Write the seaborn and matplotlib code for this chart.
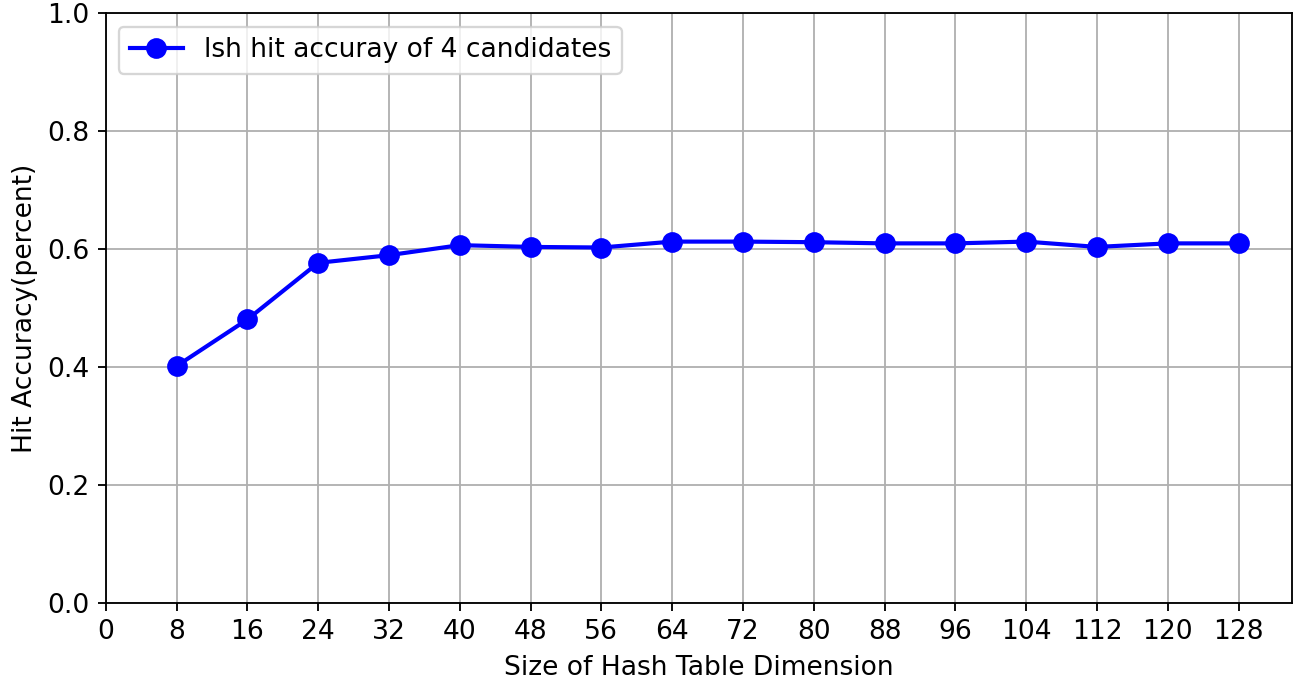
import numpy as np
import pandas as pd
import matplotlib
matplotlib.use('Agg')
import matplotlib.pyplot as plt
import seaborn as sns

# Data
dims = [8, 16, 24, 32, 40, 48, 56, 64, 72, 80, 88, 96, 104, 112, 120, 128]
accuracy = [0.402, 0.481, 0.577, 0.590, 0.607, 0.604, 0.603, 0.613,
            0.613, 0.612, 0.610, 0.610, 0.613, 0.604, 0.610, 0.610]
xticks = list(range(0, 129, 8))

df = pd.DataFrame({'dim': dims, 'acc': accuracy})

plt.rcParams['font.size'] = 11.5

dpi = 166
fig = plt.figure(figsize=(1299 / dpi, 684 / dpi), dpi=dpi)
ax = fig.add_axes([0.0814, 0.118, 0.913, 0.8626])

sns.lineplot(data=df, x='dim', y='acc', ax=ax, color='blue', marker='o',
             markersize=8, linewidth=1.8, markeredgecolor='blue',
             markeredgewidth=1, label='lsh hit accuray of 4 candidates')

ax.set_xticks(xticks)
ax.set_xlim(0, 134)
ax.set_ylim(0, 1.0)
ax.set_yticks(np.arange(0, 1.01, 0.2))
ax.grid(True, color='#b0b0b0', linewidth=0.8)
ax.set_xlabel('Size of Hash Table Dimension')
ax.set_ylabel('Hit Accuracy(percent)')
ax.legend(loc='upper left')

fig.savefig('out.png', dpi=dpi)
